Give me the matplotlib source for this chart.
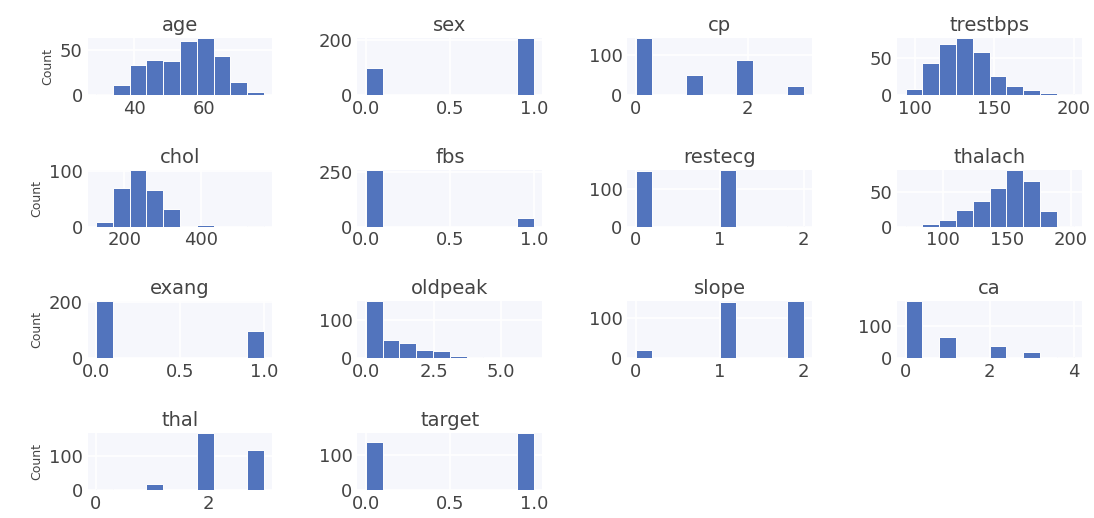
"""Grid of per-feature histograms for the heart disease table."""
import matplotlib
matplotlib.use("Agg")
import matplotlib.pyplot as plt
import numpy as np

FEATURES = ["age", "sex", "cp", "trestbps", "chol", "fbs", "restecg",
            "thalach", "exang", "oldpeak", "slope", "ca", "thal", "target"]

# value range (min, max) of each feature; histograms use 10 equal bins over it
RANGES = {
    "age": (29, 77), "sex": (0, 1), "cp": (0, 3), "trestbps": (94, 200),
    "chol": (126, 564), "fbs": (0, 1), "restecg": (0, 2),
    "thalach": (71, 202), "exang": (0, 1), "oldpeak": (0, 6.2),
    "slope": (0, 2), "ca": (0, 4), "thal": (0, 3), "target": (0, 1),
}

# counts per bin
age_counts = [1, 11, 33, 38, 37, 60, 63, 43, 14, 3]
sex_counts = [96, 0, 0, 0, 0, 0, 0, 0, 0, 207]
cp_counts = [143, 0, 0, 50, 0, 0, 87, 0, 0, 23]
trestbps_counts = [8, 43, 69, 77, 58, 26, 12, 7, 2, 1]
chol_counts = [9, 70, 103, 66, 31, 1, 3, 0, 0, 1]
fbs_counts = [262, 0, 0, 0, 0, 0, 0, 0, 0, 41]
restecg_counts = [147, 0, 0, 0, 0, 152, 0, 0, 0, 1]
thalach_counts = [1, 4, 9, 24, 37, 56, 82, 66, 23, 1]
exang_counts = [204, 0, 0, 0, 0, 0, 0, 0, 0, 99]
oldpeak_counts = [150, 49, 39, 23, 19, 7, 3, 1, 0, 2]
slope_counts = [21, 0, 0, 0, 0, 140, 0, 0, 0, 142]
ca_counts = [175, 0, 65, 0, 0, 38, 0, 20, 0, 5]
thal_counts = [2, 0, 0, 18, 0, 0, 166, 0, 0, 117]
target_counts = [138, 0, 0, 0, 0, 0, 0, 0, 0, 165]

COUNTS = {
    "age": age_counts, "sex": sex_counts, "cp": cp_counts,
    "trestbps": trestbps_counts, "chol": chol_counts, "fbs": fbs_counts,
    "restecg": restecg_counts, "thalach": thalach_counts,
    "exang": exang_counts, "oldpeak": oldpeak_counts,
    "slope": slope_counts, "ca": ca_counts, "thal": thal_counts,
    "target": target_counts,
}

BAR_COLOR = "#5274bd"
FACE_COLOR = "#f6f7fc"
TEXT_COLOR = "#444444"


def _style() -> None:
    plt.rcParams.update({
        "font.family": "DejaVu Sans",
        "axes.facecolor": FACE_COLOR,
        "axes.edgecolor": "white",
        "axes.grid": True,
        "grid.color": "white",
        "grid.linewidth": 1.2,
        "axes.axisbelow": True,
        "xtick.labelsize": 13,
        "ytick.labelsize": 13,
        "xtick.color": TEXT_COLOR,
        "ytick.color": TEXT_COLOR,
        "xtick.major.size": 0,
        "ytick.major.size": 0,
        "text.color": TEXT_COLOR,
        "axes.labelcolor": TEXT_COLOR,
    })


def _main() -> None:
    _style()
    fig, axs = plt.subplots(nrows=4, ncols=4, figsize=(10.94, 5.18), dpi=100)
    plt.subplots_adjust(left=0.08, right=0.989, top=0.927, bottom=0.054,
                        wspace=0.46, hspace=1.31)

    for i, ax in enumerate(axs.flat):
        if i >= len(FEATURES):
            ax.axis("off")
            continue
        name = FEATURES[i]
        lo, hi = RANGES[name]
        edges = np.linspace(lo, hi, 11)
        counts = COUNTS[name]
        ax.hist(edges[:-1], bins=edges, weights=counts,
                color=BAR_COLOR, edgecolor="white", linewidth=0.7)
        # tallest bar reaches the top of the panel
        ax.set_ylim(0, max(counts))
        for spine in ax.spines.values():
            spine.set_visible(False)
        ax.set_title(name, fontsize=14, color=TEXT_COLOR, pad=5)
        if i % 4 == 0:
            ax.set_ylabel("Count", fontsize=9)

    fig.savefig("out.png", facecolor="white")


if __name__ == "__main__":
    _main()
